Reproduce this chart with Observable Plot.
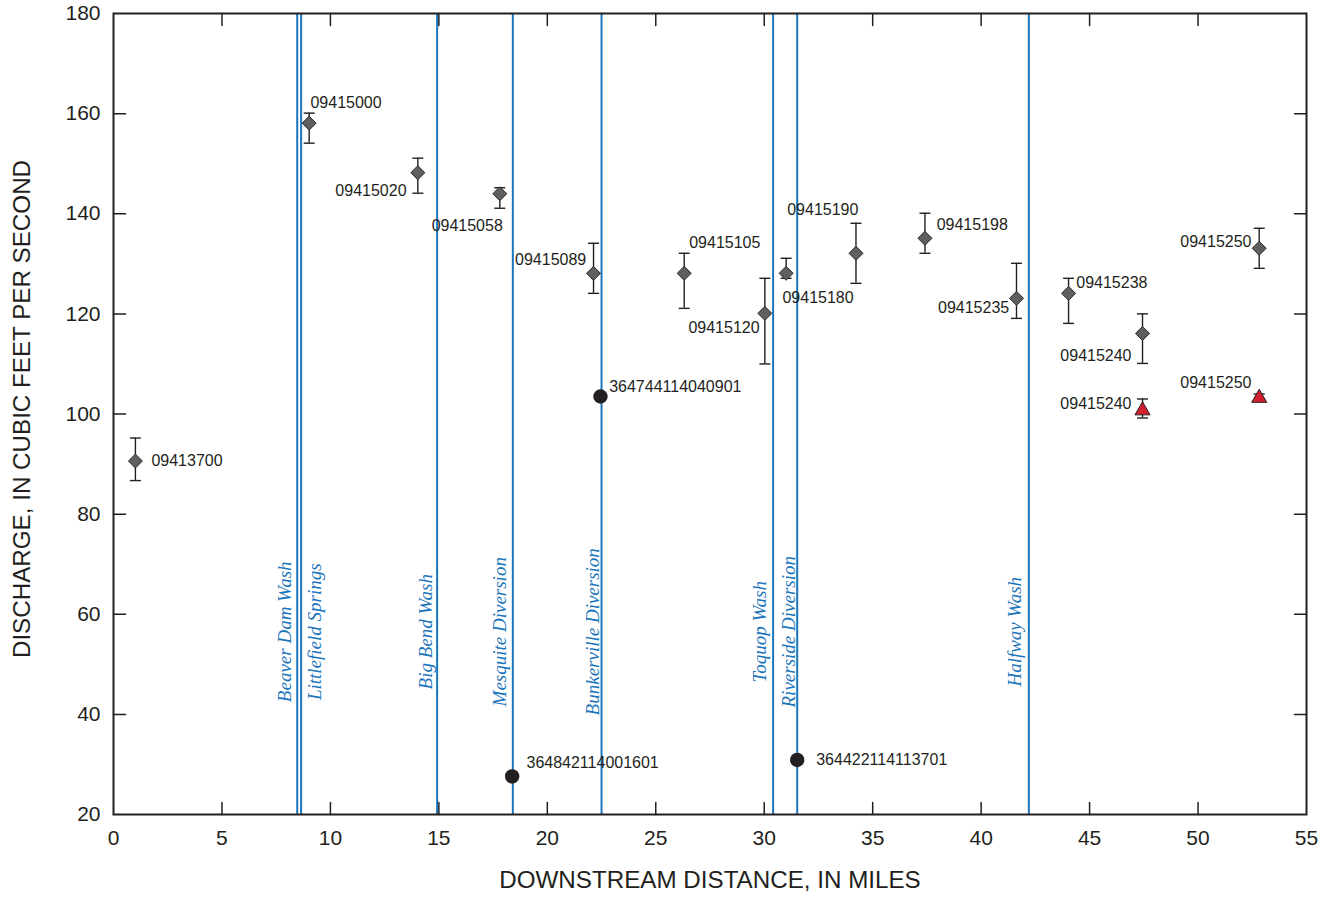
<!DOCTYPE html>
<html>
<head>
<meta charset="utf-8">
<script src="https://cdn.jsdelivr.net/npm/d3@7"></script>
<script src="https://cdn.jsdelivr.net/npm/@observablehq/plot@0.6"></script>
<style>
  html, body { margin: 0; padding: 0; background: #ffffff; }
  #chart svg { display: block; }
</style>
</head>
<body>
<div id="chart"></div>
<script>
// ---------------- DATA ----------------
// Streamflow-gaging stations (gray diamonds with error bars)
const stationIds = ["09413700","09415000","09415020","09415058","09415089","09415105","09415120",
                    "09415180","09415190","09415198","09415235","09415238","09415240","09415250"];
const stationMiles = [1.01, 9.02, 14.03, 17.81, 22.13, 26.31, 30.03, 31.01, 34.23, 37.41, 41.63, 44.03, 47.44, 52.82];
const stationQ     = [90.6, 158.1, 148.2, 144.0, 128.1, 128.1, 120.1, 128.1, 132.1, 135.1, 123.1, 124.1, 116.1, 133.1];
const stationQLow  = [86.7, 154.1, 144.1, 141.1, 124.1, 121.1, 110.0, 127.1, 126.1, 132.1, 119.1, 118.1, 110.1, 129.1];
const stationQHigh = [95.2, 160.1, 151.1, 145.2, 134.1, 132.1, 127.1, 131.1, 138.1, 140.1, 130.1, 127.1, 120.0, 137.1];

// Second set of measurements (red triangles with error bars)
const seepIds   = ["09415240", "09415250"];
const seepMiles = [47.44, 52.82];
const seepQ     = [100.7, 103.2];
const seepQLow  = [99.2, 102.6];
const seepQHigh = [103.0, 104.0];

// Wells / other sites (black circles)
const wellIds   = ["364842114001601", "364744114040901", "364422114113701"];
const wellMiles = [18.38, 22.45, 31.52];
const wellQ     = [27.6, 103.5, 30.9];

// Tributaries and diversions (blue vertical lines)
const tributaryNames = ["Beaver Dam Wash","Littlefield Springs","Big Bend Wash","Mesquite Diversion",
                        "Bunkerville Diversion","Toquop Wash","Riverside Diversion","Halfway Wash"];
const tributaryMiles = [8.47, 8.65, 14.92, 18.41, 22.5, 30.41, 31.52, 42.2];

// Axis ticks
const xTicks = [0, 5, 10, 15, 20, 25, 30, 35, 40, 45, 50, 55];
const yTicks = [20, 40, 60, 80, 100, 120, 140, 160, 180];
const xTitle = "DOWNSTREAM DISTANCE, IN MILES";
const yTitle = "DISCHARGE, IN CUBIC FEET PER SECOND";

// ---------------- LAYOUT (label placement, not data) ----------------
const stationLabelLayout = [
  ["start", 16, 0], ["start", 1.3, -20], ["end", -11.3, 18.4], ["end", 3, 31.7],
  ["end", -7.3, -13], ["start", 5, -30.3], ["end", -5.3, 14.7], ["start", -3.7, 25],
  ["end", 2.4, -43.7], ["start", 11.7, -13.4], ["end", -7.3, 10], ["start", 7.7, -10],
  ["end", -11, 22.7], ["end", -7.7, -6.7]
];
const seepLabelLayout = [["end", -11, -6.7], ["end", -7.7, -15]];
const wellLabelLayout = [["start", 14.3, -13.3], ["start", 8.7, -9.3], ["start", 19, 0]];
const tributaryLabelDx = [-12.5, 13.5, -11.2, -12.8, -8.8, -13, -8.7, -13.6];
const tributaryLabelLevel = 56.5;

// ---------------- TABLES ----------------
const stations = stationIds.map((id, i) => ({id, mile: stationMiles[i], q: stationQ[i], lo: stationQLow[i], hi: stationQHigh[i]}));
const seeps = seepIds.map((id, i) => ({id, mile: seepMiles[i], q: seepQ[i], lo: seepQLow[i], hi: seepQHigh[i]}));
const wells = wellIds.map((id, i) => ({id, mile: wellMiles[i], q: wellQ[i]}));
const tributaries = tributaryNames.map((name, i) => ({name, mile: tributaryMiles[i]}));

// ---------------- STYLE ----------------
const INK = "#231f20";
const BLUE = "#1b75bc";
const SANS = "'Liberation Sans', Arial, Helvetica, sans-serif";
const SERIF = "'Liberation Serif', 'Times New Roman', serif";

const capSymbol = {draw(ctx) { ctx.moveTo(-5.5, 0); ctx.lineTo(5.5, 0); }};
const tickShape = {draw(ctx, l) { ctx.moveTo(0, 0); ctx.lineTo(0, -l); }};

function labelMarks(rows, layout, fontSize) {
  return rows.map((d, i) => Plot.text([d], {
    x: "mile", y: "q", text: "id",
    textAnchor: layout[i][0], dx: layout[i][1], dy: layout[i][2],
    fontSize, fontFamily: SANS, fill: INK
  }));
}

const innerX = xTicks.slice(1, -1);
const innerY = yTicks.slice(1, -1);
const tickOpts = {length: 12, anchor: "start", shape: tickShape, stroke: INK, strokeWidth: 1.5};

const chart = Plot.plot({
  width: 1333,
  height: 900,
  marginLeft: 113,
  marginRight: 27,
  marginTop: 13,
  marginBottom: 86,
  style: {fontFamily: SANS, fontSize: "21px", color: INK, background: "#ffffff"},
  x: {domain: [0, 55], ticks: xTicks},
  y: {domain: [20, 180], ticks: yTicks},
  marks: [
    // tributary lines and labels
    Plot.ruleX(tributaries, {x: "mile", stroke: BLUE, strokeWidth: 2}),
    ...tributaries.map((t, i) => Plot.text([t], {
      x: "mile", y: () => tributaryLabelLevel, text: "name", rotate: -90,
      dx: tributaryLabelDx[i], fill: BLUE, fontFamily: SERIF, fontStyle: "italic", fontSize: 19
    })),
    // error bars
    Plot.ruleX(stations, {x: "mile", y1: "lo", y2: "hi", stroke: INK, strokeWidth: 1.4}),
    Plot.dot(stations, {x: "mile", y: "lo", symbol: capSymbol, fill: "none", stroke: INK, strokeWidth: 1.4}),
    Plot.dot(stations, {x: "mile", y: "hi", symbol: capSymbol, fill: "none", stroke: INK, strokeWidth: 1.4}),
    Plot.ruleX(seeps, {x: "mile", y1: "lo", y2: "hi", stroke: INK, strokeWidth: 1.4}),
    Plot.dot(seeps, {x: "mile", y: "lo", symbol: capSymbol, fill: "none", stroke: INK, strokeWidth: 1.4}),
    Plot.dot(seeps, {x: "mile", y: "hi", symbol: capSymbol, fill: "none", stroke: INK, strokeWidth: 1.4}),
    // points
    Plot.dot(stations, {x: "mile", y: "q", symbol: "diamond2", r: 6.3, fill: "#5f5f5f", stroke: "#2a2a2a", strokeWidth: 1}),
    Plot.dot(seeps, {x: "mile", y: "q", symbol: "triangle", r: 5.6, fill: "#d0202e", stroke: INK, strokeWidth: 1}),
    Plot.dot(wells, {x: "mile", y: "q", r: 7.2, fill: INK, stroke: "none"}),
    // point labels
    ...labelMarks(stations, stationLabelLayout, 16),
    ...labelMarks(seeps, seepLabelLayout, 16),
    ...labelMarks(wells, wellLabelLayout, 16),
    // frame and inward ticks
    Plot.frame({stroke: INK, strokeWidth: 2}),
    Plot.vector(innerX, {x: d => d, frameAnchor: "bottom", rotate: 0, ...tickOpts}),
    Plot.vector(innerX, {x: d => d, frameAnchor: "top", rotate: 180, ...tickOpts}),
    Plot.vector(innerY, {y: d => d, frameAnchor: "left", rotate: 90, ...tickOpts}),
    Plot.vector(innerY, {y: d => d, frameAnchor: "right", rotate: -90, ...tickOpts}),
    // axes (labels only)
    Plot.axisX({ticks: xTicks, tickSize: 0, tickPadding: 16, label: null, fontSize: 21, fill: INK}),
    Plot.axisY({ticks: yTicks, tickSize: 0, tickPadding: 13, label: null, fontSize: 21, fill: INK}),
    // axis titles
    Plot.text([xTitle], {frameAnchor: "bottom", textAnchor: "middle", lineAnchor: "middle", dy: 66,
      text: d => d, fontSize: 24.2, fontFamily: SANS, fill: INK}),
    Plot.text([yTitle], {frameAnchor: "left", textAnchor: "middle", lineAnchor: "middle", dx: -91, dy: -5, rotate: -90,
      text: d => d, fontSize: 24.2, fontFamily: SANS, fill: INK})
  ]
});

document.getElementById("chart").appendChild(chart);
</script>
</body>
</html>
